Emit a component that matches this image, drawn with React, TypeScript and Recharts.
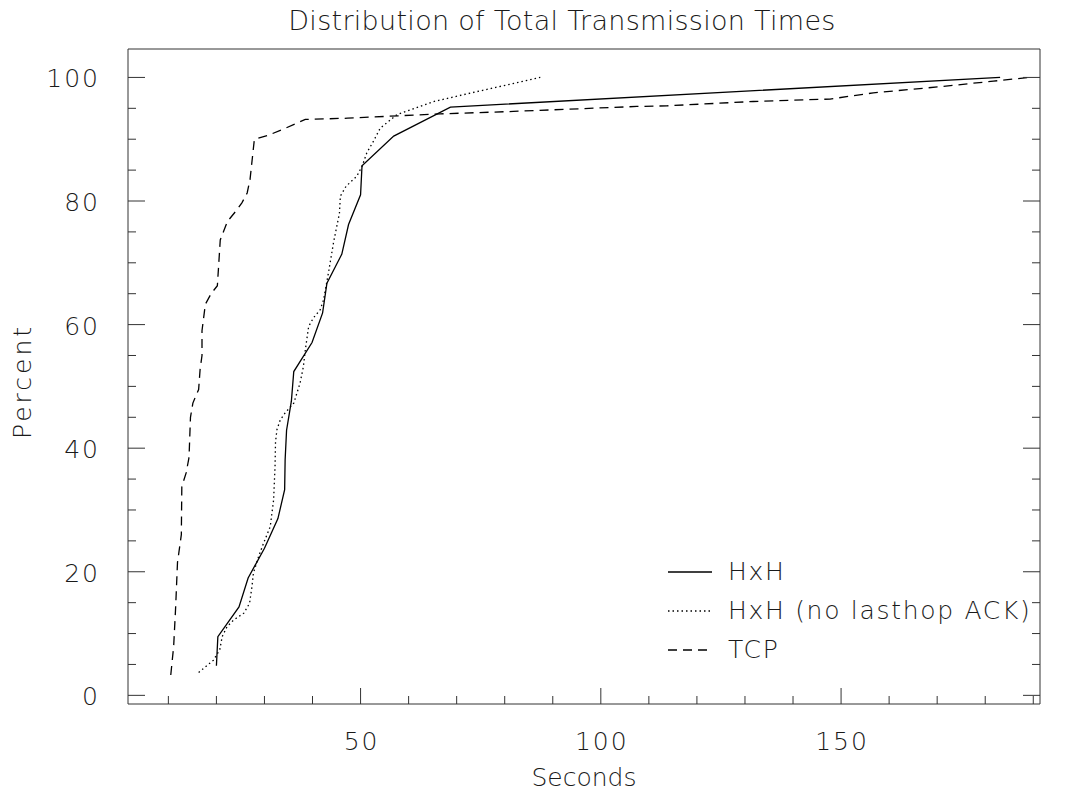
import { LineChart, Line, XAxis, YAxis, Legend } from 'recharts'

// HxH (hop-by-hop) transmission times, seconds vs cumulative percent
const hxhSeconds = [20.0, 20.3, 24.7, 26.6, 30.0, 32.8, 34.2, 34.3, 34.6, 35.6, 36.1, 39.9, 42.1, 43.0, 46.1, 47.5, 50.0, 50.3, 56.9, 68.7, 183.1]
const hxhPercent = [4.8, 9.5, 14.3, 19.0, 23.8, 28.6, 33.3, 38.1, 42.9, 47.6, 52.4, 57.1, 61.9, 66.7, 71.4, 76.2, 81.0, 85.7, 90.5, 95.2, 100]

// HxH without lasthop ACK
const noAckSeconds = [16.3, 19.4, 20.7, 21.2, 22.2, 23.6, 25.7, 26.9, 27.4, 27.7, 28.8, 29.8, 31.2, 31.9, 32.2, 32.3, 32.6, 33.3, 34.3, 36.1, 37.4, 38.1, 38.5, 39.2, 40.2, 41.6, 42.3, 43.3, 44.4, 45.6, 45.8, 47.0, 49.2, 50.3, 51.3, 52.7, 54.1, 57.6, 65.2, 74.2, 87.4]
const noAckPercent = [3.7, 5.7, 7.4, 9.5, 11.1, 12.2, 13.3, 14.9, 17.6, 19.8, 22.5, 24.6, 27.3, 31.6, 37.0, 41.0, 43.0, 44.6, 45.7, 47.3, 50.5, 53.2, 55.9, 59.7, 61.1, 62.4, 64.0, 68.3, 73.4, 78.0, 80.8, 82.4, 84.0, 85.6, 87.8, 89.7, 91.8, 94.0, 96.1, 97.7, 100]

// TCP end-to-end
const tcpSeconds = [10.5, 11.1, 11.5, 11.9, 12.7, 12.8, 13.7, 14.3, 14.6, 15.1, 16.3, 16.6, 17.0, 17.0, 17.7, 18.9, 20.2, 20.8, 21.5, 22.3, 24.3, 25.3, 26.4, 27.0, 27.9, 30.7, 34.4, 38.5, 47.3, 58.2, 66.6, 81.8, 107.5, 113.7, 131.7, 147.7, 156.7, 170.6, 181.7, 189.3]
const tcpPercent = [3.3, 7.9, 14.0, 21.5, 26.0, 33.8, 36.0, 38.5, 45.0, 47.3, 49.5, 52.7, 55.0, 59.0, 63.3, 65.0, 66.3, 73.7, 75.1, 76.7, 78.6, 79.7, 81.3, 83.5, 90.0, 90.6, 91.8, 93.2, 93.4, 93.8, 94.1, 94.5, 95.3, 95.4, 96.1, 96.5, 97.5, 98.5, 99.4, 100]

const xTicks = [10, 20, 30, 40, 50, 60, 70, 80, 90, 100, 110, 120, 130, 140, 150, 160, 170, 180, 190]
const xLabels = [50, 100, 150]
const yTicks = [0, 5, 10, 15, 20, 25, 30, 35, 40, 45, 50, 55, 60, 65, 70, 75, 80, 85, 90, 95, 100]
const yLabels = [0, 20, 40, 60, 80, 100]

const X_DOMAIN = [1.6, 191.4]
const Y_DOMAIN = [-1.4, 104.6]

const FONT = '"DejaVu Sans", sans-serif'
const TEXT = '#1a1a1a'
const INK = '#000'
const FRAME = '#333'

const series = [
  { name: 'HxH', seconds: hxhSeconds, percent: hxhPercent, dash: undefined },
  { name: 'HxH (no lasthop ACK)', seconds: noAckSeconds, percent: noAckPercent, dash: '1.5 3' },
  { name: 'TCP', seconds: tcpSeconds, percent: tcpPercent, dash: '9 6' },
]

const toPoints = (xs: number[], ys: number[]) => xs.map((x, i) => ({ x, y: ys[i] }))

// ticks point into the plot, IDL style
const BottomTick = ({ x, y, payload }: any) => {
  const major = xLabels.includes(payload.value)
  return (
    <g>
      <line x1={x} x2={x} y1={y} y2={y - (major ? 16 : 8)} stroke={FRAME} />
      {major && (
        <text x={x + 1} y={y + 46} textAnchor="middle" fontSize={25} letterSpacing={2} fill={TEXT} fontFamily={FONT} fontWeight={200}>
          {payload.value}
        </text>
      )}
    </g>
  )
}

const TopTick = ({ x, y, payload }: any) => {
  const major = xLabels.includes(payload.value)
  return <line x1={x} x2={x} y1={y} y2={y + (major ? 16 : 8)} stroke={FRAME} />
}

const LeftTick = ({ x, y, payload }: any) => {
  const major = yLabels.includes(payload.value)
  return (
    <g>
      <line x1={x} x2={x + (major ? 17 : 8)} y1={y} y2={y} stroke={FRAME} />
      {major && (
        <text x={x - 28} y={y + 1} dy="0.36em" textAnchor="end" fontSize={25} letterSpacing={2} fill={TEXT} fontFamily={FONT} fontWeight={200}>
          {payload.value}
        </text>
      )}
    </g>
  )
}

const RightTick = ({ x, y, payload }: any) => {
  const major = yLabels.includes(payload.value)
  return <line x1={x} x2={x - (major ? 17 : 8)} y1={y} y2={y} stroke={FRAME} />
}

const PercentTitle = (props: any) => {
  const vb = props.viewBox || { x: 0, y: 49, width: 128, height: 655 }
  const cx = vb.x + 22
  const cy = vb.y + vb.height / 2 + 5
  return (
    <text x={cx} y={cy} dy="0.36em" textAnchor="middle" transform={`rotate(-90 ${cx} ${cy})`} fontSize={25} letterSpacing={3} fill={TEXT} fontFamily={FONT} fontWeight={200}>
      Percent
    </text>
  )
}

const SecondsTitle = (props: any) => {
  const vb = props.viewBox || { x: 128, y: 704, width: 912, height: 92 }
  return (
    <text x={vb.x + vb.width / 2} y={vb.y + 82} textAnchor="middle" fontSize={25} fill={TEXT} fontFamily={FONT} fontWeight={200}>
      Seconds
    </text>
  )
}

const LegendBox = () => (
  <div style={{ fontFamily: FONT, fontSize: 25, fontWeight: 200, color: TEXT, letterSpacing: 1.7 }}>
    {series.map((s) => (
      <div key={s.name} style={{ display: 'flex', alignItems: 'center', height: 39, whiteSpace: 'nowrap' }}>
        <svg width={44} height={10} style={{ display: 'block' }}>
          <line x1={0} x2={44} y1={5} y2={5} stroke={INK} strokeWidth={1.3} strokeDasharray={s.dash} />
        </svg>
        <span style={{ marginLeft: 16 }}>{s.name}</span>
      </div>
    ))}
  </div>
)

export default function App() {
  return (
    <div style={{ position: 'absolute', left: 0, top: 0, width: 1070, height: 796, background: '#fff' }}>
      <div
        style={{
          position: 'absolute',
          left: 562,
          top: 20,
          transform: 'translate(-50%, -50%)',
          whiteSpace: 'nowrap',
          fontFamily: FONT,
          fontSize: 27,
          fontWeight: 200,
          letterSpacing: 0.3,
          color: TEXT,
          lineHeight: 1,
        }}
      >
        Distribution of Total Transmission Times
      </div>
      <LineChart width={1070} height={796} margin={{ top: 48, right: 29, bottom: 0, left: 0 }}>
        <XAxis
          xAxisId="x"
          type="number"
          dataKey="x"
          orientation="bottom"
          domain={X_DOMAIN}
          allowDataOverflow
          ticks={xTicks}
          interval={0}
          height={92}
          tickSize={0}
          tickMargin={0}
          tickLine={false}
          tick={BottomTick}
          axisLine={{ stroke: FRAME }}
          label={SecondsTitle}
        />
        <XAxis
          xAxisId="top"
          type="number"
          orientation="top"
          domain={X_DOMAIN}
          allowDataOverflow
          ticks={xTicks}
          interval={0}
          height={1}
          tickSize={0}
          tickMargin={0}
          tickLine={false}
          tick={TopTick}
          axisLine={{ stroke: FRAME }}
        />
        <YAxis
          yAxisId="y"
          type="number"
          orientation="left"
          domain={Y_DOMAIN}
          allowDataOverflow
          ticks={yTicks}
          interval={0}
          width={128}
          tickSize={0}
          tickMargin={0}
          tickLine={false}
          tick={LeftTick}
          axisLine={{ stroke: FRAME }}
          label={PercentTitle}
        />
        <YAxis
          yAxisId="right"
          type="number"
          orientation="right"
          domain={Y_DOMAIN}
          allowDataOverflow
          ticks={yTicks}
          interval={0}
          width={1}
          tickSize={0}
          tickMargin={0}
          tickLine={false}
          tick={RightTick}
          axisLine={{ stroke: FRAME }}
        />
        {series.map((s) => (
          <Line
            key={s.name}
            name={s.name}
            data={toPoints(s.seconds, s.percent)}
            dataKey="y"
            xAxisId="x"
            yAxisId="y"
            type="linear"
            stroke={INK}
            strokeWidth={1.3}
            strokeDasharray={s.dash}
            dot={false}
            activeDot={false}
            isAnimationActive={false}
          />
        ))}
        <Legend
          layout="vertical"
          align="center"
          verticalAlign="middle"
          content={LegendBox}
          wrapperStyle={{ left: 668, top: 552, width: 'auto', height: 'auto' }}
        />
      </LineChart>
    </div>
  )
}
